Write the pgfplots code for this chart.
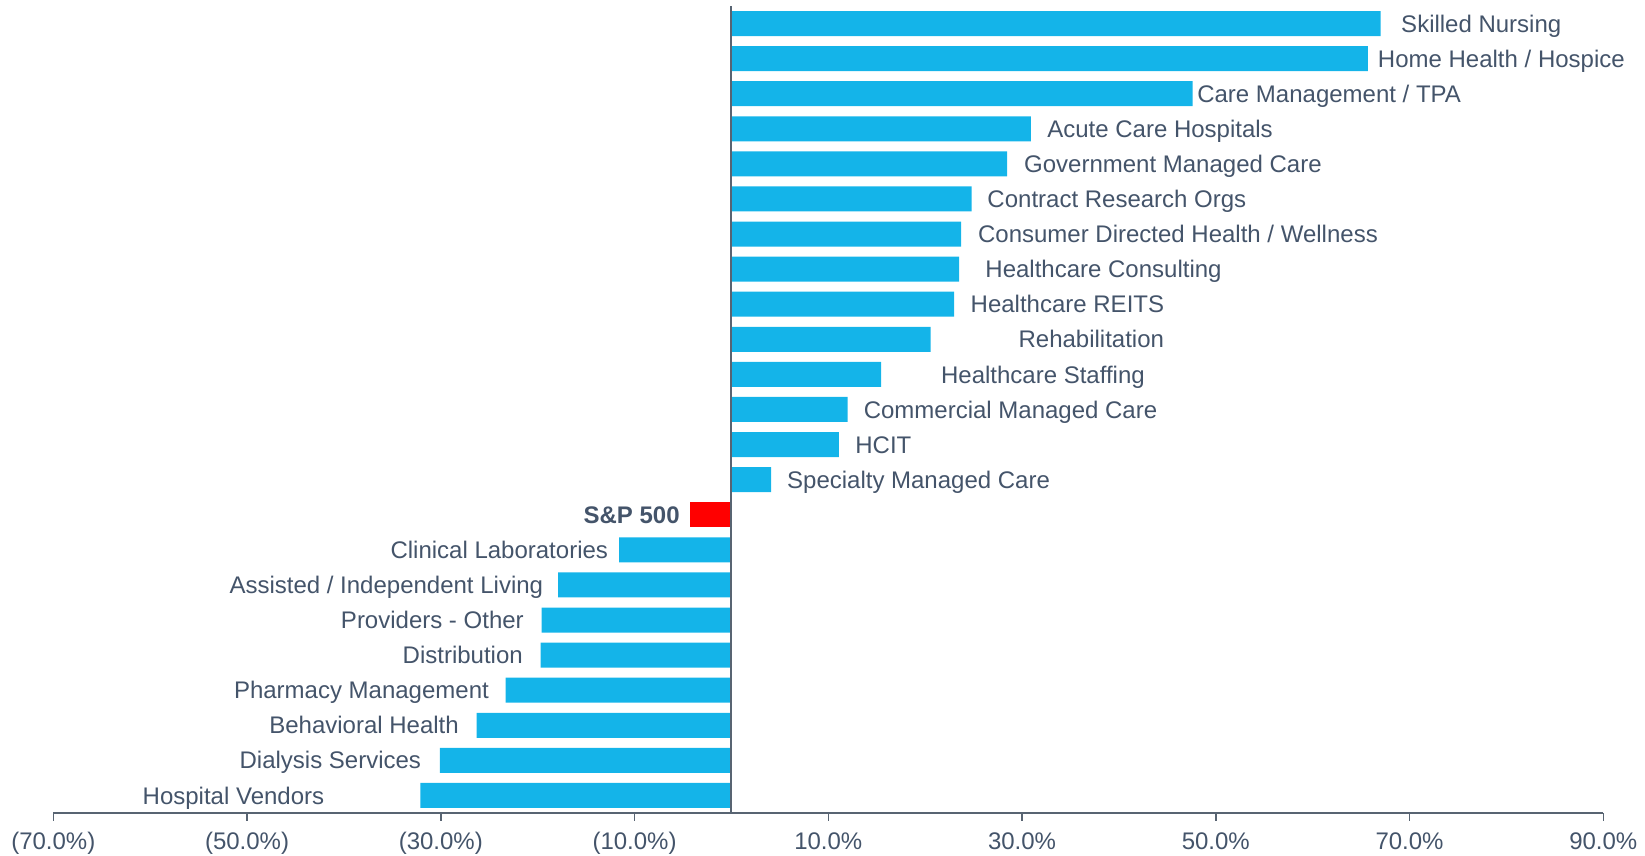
\documentclass[border=0pt]{standalone}
\usepackage{pgfplots}
\pgfplotsset{compat=1.18}
\usepackage{fontspec}
\setmainfont{Liberation Sans}
\definecolor{barblue}{RGB}{20,180,233}
\definecolor{txt}{RGB}{68,84,106}
\definecolor{axc}{RGB}{88,100,114}
\begin{document}
\begin{tikzpicture}
\useasboundingbox (0,0) rectangle (822.5pt,428pt);
\begin{axis}[
  at={(26.65pt,21.5pt)}, anchor=south west,
  scale only axis, width=775pt, height=403.5pt,
  xmin=-70, xmax=90, ymin=-0.5, ymax=22.5,
  axis x line*=bottom, axis y line=none,
  xbar, bar width=12.5pt, bar shift=0pt,
  xtick={-70,-50,...,90},
  xticklabels={(70.0\%),(50.0\%),(30.0\%),(10.0\%),10.0\%,30.0\%,50.0\%,70.0\%,90.0\%},
  tick align=outside, major tick length=4pt,
  x axis line style={draw=axc, line width=0.8pt, -},
  xtick style={draw=axc, line width=0.8pt},
  xticklabel style={font=\fontsize{12}{14}\selectfont, text=txt, anchor=base, yshift=-14.5pt},
  clip=false,
]
\addplot[fill=barblue, draw=none] coordinates {
  (67.0,22) (65.7,21) (47.6,20) (30.9,19) (28.45,18) (24.8,17) (23.7,16)
  (23.5,15) (23.0,14) (20.55,13) (15.45,12) (12.0,11) (11.1,10) (4.1,9)
  (-11.6,7) (-17.9,6) (-19.6,5) (-19.7,4) (-23.3,3) (-26.3,2) (-30.1,1) (-32.1,0)
};
\addplot[fill=red, draw=none] coordinates {(-4.25,8)};
\draw[axc, line width=1pt] (axis cs:0,-0.5) -- (axis cs:0,22.5);
\begin{scope}[every node/.style={font=\fontsize{12}{14}\selectfont, text=txt, inner sep=0pt, yshift=-4.3pt}]
\node[anchor=base west] at (axis cs:69.1,22) {Skilled Nursing};
\node[anchor=base west] at (axis cs:66.7,21) {Home Health / Hospice};
\node[anchor=base west] at (axis cs:48.05,20) {Care Management / TPA};
\node[anchor=base west] at (axis cs:32.57,19) {Acute Care Hospitals};
\node[anchor=base west] at (axis cs:30.18,18) {Government Managed Care};
\node[anchor=base west] at (axis cs:26.39,17) {Contract Research Orgs};
\node[anchor=base west] at (axis cs:25.42,16) {Consumer Directed Health / Wellness};
\node[anchor=base west] at (axis cs:26.18,15) {Healthcare Consulting};
\node[anchor=base west] at (axis cs:24.66,14) {Healthcare REITS};
\node[anchor=base west] at (axis cs:29.6,13) {Rehabilitation};
\node[anchor=base west] at (axis cs:21.6,12) {Healthcare Staffing};
\node[anchor=base west] at (axis cs:13.62,11) {Commercial Managed Care};
\node[anchor=base west] at (axis cs:12.75,10) {HCIT};
\node[anchor=base west] at (axis cs:5.71,9) {Specialty Managed Care};
\node[anchor=base east] at (axis cs:-5.3,8) {\bfseries S\&P 500};
\node[anchor=base east] at (axis cs:-12.7,7) {Clinical Laboratories};
\node[anchor=base east] at (axis cs:-19.4,6) {Assisted / Independent Living};
\node[anchor=base east] at (axis cs:-21.4,5) {Providers - Other};
\node[anchor=base east] at (axis cs:-21.5,4) {Distribution};
\node[anchor=base east] at (axis cs:-25.0,3) {Pharmacy Management};
\node[anchor=base east] at (axis cs:-28.1,2) {Behavioral Health};
\node[anchor=base east] at (axis cs:-32.0,1) {Dialysis Services};
\node[anchor=base east] at (axis cs:-42.0,0) {Hospital Vendors};
\end{scope}
\end{axis}
\end{tikzpicture}
\end{document}
